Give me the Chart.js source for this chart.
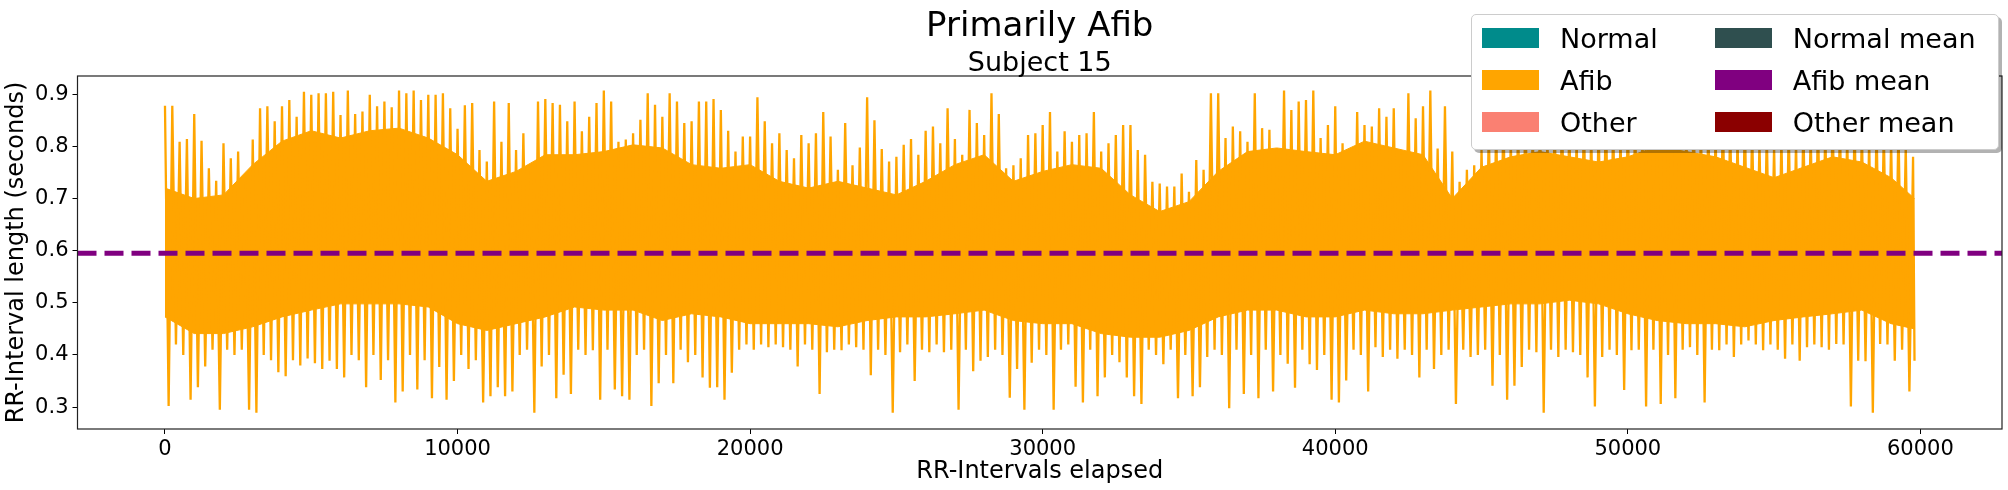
<!DOCTYPE html>
<html>
<head>
<meta charset="utf-8">
<script src="https://cdn.jsdelivr.net/npm/chart.js@4.4.1/dist/chart.umd.min.js"></script>
<style>
  html, body { margin: 0; padding: 0; background: #fff; }
  #wrap { position: relative; width: 2008px; height: 490px; }
  #legend {
    position: absolute; left: 1471px; top: 14px;
    background: #fff; border: 1px solid #cccccc; border-radius: 5px;
    box-shadow: 3px 3px 0 rgba(0,0,0,0.3);
    padding: 2px 22px 6px 10px;
    display: grid; grid-template-columns: auto auto; column-gap: 57px;
    font: 27px "DejaVu Sans", sans-serif; color: #000;
  }
  #legend .item { height: 42px; display: flex; align-items: center; white-space: nowrap; }
  #legend .sw { width: 57px; height: 20px; margin-right: 21px; display: inline-block; }
</style>
</head>
<body>
<div id="wrap">
  <canvas id="chart" width="2008" height="490"></canvas>
  <div id="legend"></div>
</div>
<script>
const titleText = "Primarily Afib";
const subtitleText = "Subject 15";
const xLabel = "RR-Intervals elapsed";
const yLabel = "RR-Interval length (seconds)";

const xTicks = [0, 10000, 20000, 30000, 40000, 50000, 60000];
const yTicks = [0.3, 0.4, 0.5, 0.6, 0.7, 0.8, 0.9];

const legendLabels = ["Normal", "Normal mean", "Afib", "Afib mean", "Other", "Other mean"];
const legendColors = ["#008b8b", "#2f4f4f", "#ffa500", "#800080", "#fa8072", "#8b0000"];

const afibMean = 0.595;
const lastIndex = 59800;

// tallest RR value in each block of 250 intervals (hidden under the legend = guessed)
const highPer250 = [
  0.878, 0.878, 0.809, 0.814, 0.862, 0.811, 0.758, 0.734, 0.806, 0.777,
  0.790, 0.740, 0.813, 0.873, 0.877, 0.848, 0.877, 0.889, 0.857, 0.905,
  0.899, 0.902, 0.902, 0.905, 0.86, 0.907, 0.862, 0.867, 0.899, 0.877,
  0.886, 0.875, 0.907, 0.902, 0.907, 0.889, 0.899, 0.899, 0.902, 0.873,
  0.834, 0.879, 0.883, 0.793, 0.771, 0.886, 0.809, 0.883, 0.793, 0.825,
  0.764, 0.886, 0.891, 0.883, 0.880, 0.848, 0.886, 0.829, 0.857, 0.883,
  0.907, 0.886, 0.809, 0.813, 0.825, 0.851, 0.902, 0.880, 0.857, 0.902,
  0.886, 0.845, 0.848, 0.886, 0.886, 0.891, 0.870, 0.830, 0.790, 0.819,
  0.819, 0.894, 0.848, 0.806, 0.825, 0.793, 0.777, 0.822, 0.806, 0.825,
  0.866, 0.819, 0.755, 0.845, 0.764, 0.798, 0.894, 0.850, 0.795, 0.771,
  0.780, 0.803, 0.814, 0.784, 0.830, 0.838, 0.806, 0.873, 0.814, 0.784,
  0.870, 0.845, 0.822, 0.902, 0.862, 0.758, 0.764, 0.777, 0.822, 0.825,
  0.841, 0.866, 0.790, 0.829, 0.809, 0.822, 0.825, 0.866, 0.790, 0.806,
  0.822, 0.841, 0.841, 0.793, 0.784, 0.732, 0.729, 0.723, 0.723, 0.748,
  0.713, 0.774, 0.755, 0.902, 0.902, 0.816, 0.838, 0.829, 0.809, 0.902,
  0.835, 0.832, 0.797, 0.907, 0.870, 0.886, 0.889, 0.907, 0.816, 0.841,
  0.877, 0.806, 0.764, 0.866, 0.841, 0.838, 0.873, 0.857, 0.873, 0.784,
  0.902, 0.854, 0.877, 0.907, 0.796, 0.877, 0.790, 0.732, 0.755, 0.764,
  0.796, 0.84, 0.85, 0.88, 0.82, 0.86, 0.89, 0.84, 0.87, 0.83,
  0.86, 0.88, 0.85, 0.82, 0.87, 0.84, 0.86, 0.89, 0.85, 0.83,
  0.87, 0.86, 0.84, 0.88, 0.85, 0.87, 0.90, 0.86, 0.84, 0.88,
  0.85, 0.86, 0.83, 0.87, 0.85, 0.82, 0.86, 0.84, 0.81, 0.83,
  0.80, 0.82, 0.84, 0.81, 0.85, 0.83, 0.86, 0.84, 0.87, 0.85,
  0.83, 0.86, 0.84, 0.82, 0.85, 0.83, 0.81, 0.84, 0.80, 0.78
];
// shortest RR value in each block of 250 intervals
const lowPer250 = [
  0.302, 0.42, 0.40, 0.314, 0.338, 0.378, 0.41, 0.295, 0.41, 0.40,
  0.41, 0.295, 0.289, 0.40, 0.39, 0.367, 0.359, 0.39, 0.38, 0.393,
  0.384, 0.373, 0.389, 0.373, 0.357, 0.40, 0.39, 0.338, 0.40, 0.352,
  0.39, 0.309, 0.330, 0.40, 0.334, 0.39, 0.317, 0.377, 0.314, 0.350,
  0.40, 0.373, 0.39, 0.309, 0.321, 0.338, 0.321, 0.330, 0.40, 0.41,
  0.289, 0.378, 0.40, 0.317, 0.362, 0.325, 0.41, 0.40, 0.409, 0.314,
  0.41, 0.334, 0.321, 0.314, 0.40, 0.41, 0.302, 0.346, 0.40, 0.346,
  0.41, 0.386, 0.40, 0.357, 0.337, 0.338, 0.314, 0.366, 0.41, 0.42,
  0.41, 0.42, 0.415, 0.42, 0.415, 0.41, 0.378, 0.42, 0.41, 0.325,
  0.405, 0.41, 0.409, 0.42, 0.415, 0.41, 0.361, 0.41, 0.40, 0.289,
  0.405, 0.42, 0.350, 0.41, 0.405, 0.42, 0.405, 0.41, 0.295, 0.41,
  0.369, 0.389, 0.396, 0.41, 0.40, 0.318, 0.373, 0.295, 0.385, 0.41,
  0.40, 0.295, 0.41, 0.42, 0.339, 0.309, 0.41, 0.321, 0.357, 0.40,
  0.386, 0.357, 0.321, 0.306, 0.41, 0.40, 0.382, 0.41, 0.317, 0.40,
  0.321, 0.338, 0.396, 0.41, 0.40, 0.298, 0.41, 0.325, 0.40, 0.317,
  0.41, 0.330, 0.40, 0.383, 0.337, 0.41, 0.382, 0.371, 0.40, 0.314,
  0.309, 0.351, 0.41, 0.40, 0.330, 0.415, 0.396, 0.41, 0.393, 0.41,
  0.40, 0.357, 0.41, 0.373, 0.40, 0.41, 0.306, 0.41, 0.396, 0.40,
  0.41, 0.341, 0.40, 0.314, 0.341, 0.377, 0.41, 0.405, 0.289, 0.41,
  0.396, 0.41, 0.405, 0.40, 0.357, 0.301, 0.396, 0.41, 0.40, 0.333,
  0.409, 0.41, 0.301, 0.41, 0.306, 0.40, 0.317, 0.41, 0.415, 0.40,
  0.309, 0.41, 0.409, 0.42, 0.396, 0.42, 0.428, 0.42, 0.409, 0.42,
  0.41, 0.393, 0.42, 0.389, 0.415, 0.42, 0.415, 0.41, 0.421, 0.42,
  0.301, 0.389, 0.388, 0.289, 0.421, 0.42, 0.389, 0.41, 0.330, 0.389
];

// edges of the solid orange band, one value per 1000 intervals (last one at the end of the record)
const bandHigh = [
  0.72, 0.70, 0.707, 0.765, 0.81, 0.83, 0.816, 0.83, 0.835, 0.816,
  0.784, 0.733, 0.752, 0.784, 0.784, 0.79, 0.803, 0.797, 0.765, 0.758,
  0.765, 0.733, 0.72, 0.733, 0.72, 0.707, 0.733, 0.765, 0.784, 0.733,
  0.752, 0.765, 0.758, 0.707, 0.675, 0.694, 0.752, 0.79, 0.797, 0.79,
  0.784, 0.81, 0.797, 0.784, 0.70, 0.76, 0.78, 0.79, 0.78, 0.77,
  0.78, 0.80, 0.79, 0.78, 0.76, 0.74, 0.76, 0.78, 0.77, 0.74, 0.70
];
const bandLow = [
  0.473, 0.441, 0.441, 0.454, 0.473, 0.486, 0.498, 0.498, 0.498, 0.492,
  0.46, 0.447, 0.46, 0.473, 0.492, 0.486, 0.486, 0.466, 0.479, 0.473,
  0.46, 0.46, 0.46, 0.454, 0.466, 0.473, 0.473, 0.479, 0.486, 0.466,
  0.46, 0.46, 0.441, 0.434, 0.434, 0.447, 0.473, 0.486, 0.486, 0.473,
  0.473, 0.486, 0.479, 0.479, 0.486, 0.492, 0.498, 0.498, 0.505, 0.498,
  0.479, 0.466, 0.46, 0.46, 0.454, 0.466, 0.473, 0.479, 0.486, 0.46, 0.45
];

const ORANGE = "#ffa500";
const FONT = "'DejaVu Sans', sans-serif";

// spikes: up to the block max, down to the block min
const spikes = [];
highPer250.forEach((v, i) => {
  spikes.push({ x: i * 250, y: v });
  spikes.push({ x: Math.min(i * 250 + 125, lastIndex), y: lowPer250[i] });
});
const bandTop = bandHigh.map((v, i) => ({ x: Math.min(i * 1000, lastIndex), y: v }));
const bandBottom = bandLow.map((v, i) => ({ x: Math.min(i * 1000, lastIndex), y: v }));

const xMin = -2990, xMax = 62790;

const textPlugin = {
  id: "texts",
  afterDraw(chart) {
    const ctx = chart.ctx;
    const a = chart.chartArea;
    const cx = (a.left + a.right) / 2;
    ctx.save();
    ctx.strokeStyle = "#222";
    ctx.lineWidth = 1.2;
    ctx.strokeRect(a.left, a.top, a.right - a.left, a.bottom - a.top);
    ctx.fillStyle = "#000";
    ctx.textAlign = "center";
    ctx.textBaseline = "alphabetic";
    ctx.font = "34px " + FONT;
    ctx.fillText(titleText, cx, 36);
    ctx.font = "27px " + FONT;
    ctx.fillText(subtitleText, cx, 71);
    ctx.restore();
  }
};

new Chart(document.getElementById("chart"), {
  type: "line",
  data: {
    datasets: [
      {
        label: "Afib mean",
        data: [{ x: xMin, y: afibMean }, { x: xMax, y: afibMean }],
        borderColor: "#800080", borderWidth: 5, borderDash: [19, 8],
        pointRadius: 0, fill: false, order: 0
      },
      {
        label: "Afib",
        data: spikes,
        borderColor: ORANGE, borderWidth: 2.3, borderJoinStyle: "bevel",
        pointRadius: 0, fill: false, order: 1
      },
      {
        label: "band top",
        data: bandTop,
        borderColor: ORANGE, borderWidth: 1, backgroundColor: ORANGE,
        pointRadius: 0, fill: "+1", order: 2
      },
      {
        label: "band bottom",
        data: bandBottom,
        borderColor: ORANGE, borderWidth: 1,
        pointRadius: 0, fill: false, order: 3
      }
    ]
  },
  options: {
    responsive: false,
    animation: false,
    devicePixelRatio: 1,
    layout: { padding: { top: 76, right: 6, left: 0, bottom: 0 } },
    plugins: { legend: { display: false }, tooltip: { enabled: false } },
    elements: { line: { tension: 0 } },
    scales: {
      x: {
        type: "linear", min: xMin, max: xMax,
        afterBuildTicks: s => { s.ticks = xTicks.map(v => ({ value: v })); },
        afterFit: s => { s.height = 61; },
        ticks: { color: "#000", font: { family: FONT, size: 21 }, padding: 3, maxRotation: 0,
                 callback: v => String(v) },
        grid: { drawOnChartArea: false, drawTicks: true, tickLength: 5, color: "#000" },
        border: { display: false },
        title: { display: true, text: xLabel, color: "#000", font: { family: FONT, size: 24 },
                 padding: { top: 0, bottom: 4 } }
      },
      y: {
        type: "linear", min: 0.258, max: 0.935,
        afterBuildTicks: s => { s.ticks = yTicks.map(v => ({ value: v })); },
        afterFit: s => { s.width = 77.5; },
        ticks: { color: "#000", font: { family: FONT, size: 21 }, padding: 4,
                 callback: v => v.toFixed(1) },
        grid: { drawOnChartArea: false, drawTicks: true, tickLength: 5, color: "#000" },
        border: { display: false },
        title: { display: true, text: yLabel, color: "#000", font: { family: FONT, size: 24 },
                 padding: { top: 2, bottom: 0 } }
      }
    }
  },
  plugins: [textPlugin]
});

// legend, two columns like the original
const legend = document.getElementById("legend");
legendLabels.forEach((lab, i) => {
  const item = document.createElement("div");
  item.className = "item";
  const sw = document.createElement("span");
  sw.className = "sw";
  sw.style.background = legendColors[i];
  item.appendChild(sw);
  item.appendChild(document.createTextNode(lab));
  legend.appendChild(item);
});
</script>
</body>
</html>
